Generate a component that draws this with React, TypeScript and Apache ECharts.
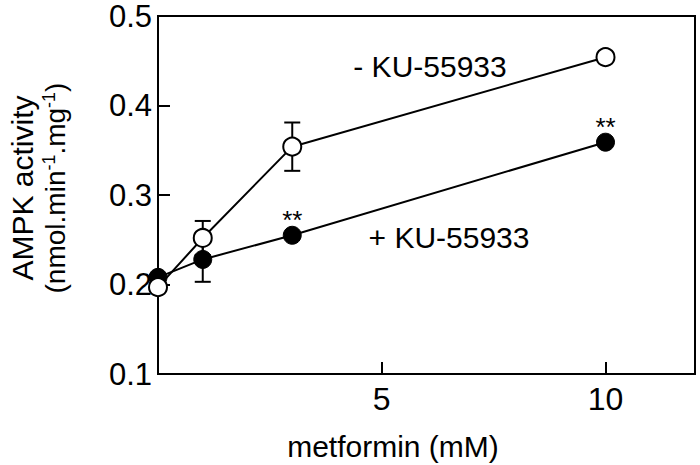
import React, { useEffect, useRef } from "react";
import * as echarts from "echarts";

const metforminDoses = [0, 1, 3, 10];
const withoutKU = [0.197, 0.252, 0.354, 0.454];
const withoutKUErr = [0, 0.019, 0.027, 0];
const withKU = [0.208, 0.228, 0.255, 0.359];
const withKUErr = [0, 0.025, 0, 0];
const significance = ["", "", "**", "**"];
const xTickLabels = [5, 10];

const FONT = '"Liberation Sans", Arial, Helvetica, sans-serif';

export default function App() {
  const ref = useRef<HTMLDivElement>(null);
  useEffect(() => {
    if (!ref.current) return;
    const chart = echarts.init(ref.current, undefined, { renderer: "svg" });

    const errData: number[][] = [];
    metforminDoses.forEach((x, i) => {
      if (withoutKUErr[i] > 0) errData.push([x, withoutKU[i] - withoutKUErr[i], withoutKU[i] + withoutKUErr[i]]);
      if (withKUErr[i] > 0) errData.push([x, withKU[i] - withKUErr[i], withKU[i] + withKUErr[i]]);
    });

    const lineStyle = { stroke: "#000", lineWidth: 2 };

    chart.setOption({
      animation: false,
      backgroundColor: "#fff",
      textStyle: { fontFamily: FONT },
      grid: {
        left: 158,
        right: 5,
        top: 16,
        bottom: 91,
        show: true,
        borderColor: "#000",
        borderWidth: 2,
        backgroundColor: "transparent",
      },
      xAxis: {
        type: "value",
        min: 0,
        max: 12,
        interval: 5,
        splitLine: { show: false },
        axisLine: { show: true, lineStyle: { color: "#000", width: 2 } },
        axisTick: { show: true, inside: true, length: 12, lineStyle: { color: "#000", width: 2 } },
        axisLabel: {
          color: "#000",
          fontSize: 32,
          fontFamily: FONT,
          margin: 9,
          formatter: (v: number) => (xTickLabels.includes(v) ? String(v) : ""),
        },
      },
      yAxis: {
        type: "value",
        min: 0.1,
        max: 0.5,
        interval: 0.1,
        splitLine: { show: false },
        axisLine: { show: true, lineStyle: { color: "#000", width: 2 } },
        axisTick: { show: true, inside: true, length: 12, lineStyle: { color: "#000", width: 2 } },
        axisLabel: {
          color: "#000",
          fontSize: 31,
          fontFamily: FONT,
          margin: 6,
          formatter: (v: number) => v.toFixed(1),
        },
      },
      series: [
        {
          type: "custom",
          z: 1,
          data: errData,
          renderItem: (params: any, api: any) => {
            const x = api.value(0);
            const lo = api.value(1);
            const hi = api.value(2);
            const top = api.coord([x, hi]);
            const bot = api.coord([x, lo]);
            const w = 8;
            return {
              type: "group",
              children: [
                { type: "line", shape: { x1: top[0], y1: top[1], x2: bot[0], y2: bot[1] }, style: lineStyle },
                { type: "line", shape: { x1: top[0] - w, y1: top[1], x2: top[0] + w, y2: top[1] }, style: lineStyle },
                { type: "line", shape: { x1: bot[0] - w, y1: bot[1], x2: bot[0] + w, y2: bot[1] }, style: lineStyle },
              ],
            };
          },
        },
        {
          type: "line",
          name: "+ KU-55933",
          z: 2,
          clip: false,
          symbol: "circle",
          symbolSize: 18,
          lineStyle: { color: "#000", width: 2 },
          itemStyle: { color: "#000", borderColor: "#000", borderWidth: 1 },
          data: metforminDoses.map((x, i) => ({
            value: [x, withKU[i]],
            label: significance[i]
              ? {
                  show: true,
                  position: "top",
                  distance: -7,
                  formatter: significance[i],
                  fontSize: 26,
                  color: "#000",
                  fontFamily: FONT,
                }
              : { show: false },
          })),
        },
        {
          type: "line",
          name: "- KU-55933",
          z: 3,
          clip: false,
          symbol: "circle",
          symbolSize: 18,
          lineStyle: { color: "#000", width: 2 },
          itemStyle: { color: "#fff", borderColor: "#000", borderWidth: 2 },
          data: metforminDoses.map((x, i) => [x, withoutKU[i]]),
        },
      ],
      graphic: [
        {
          type: "text",
          x: 22,
          y: 188,
          rotation: Math.PI / 2,
          style: {
            text: "AMPK activity",
            fontSize: 30,
            fontFamily: FONT,
            fill: "#000",
            align: "center",
            verticalAlign: "middle",
          },
        },
        {
          type: "text",
          x: 55,
          y: 188,
          rotation: Math.PI / 2,
          style: {
            text: "(nmol.min{s|-1}.mg{s|-1})",
            fontSize: 28,
            fontFamily: FONT,
            fill: "#000",
            lineHeight: 30,
            align: "center",
            verticalAlign: "middle",
            rich: {
              s: { fontSize: 18, fontFamily: FONT, fill: "#000", lineHeight: 10, verticalAlign: "top" },
            },
          },
        },
        {
          type: "text",
          x: 393,
          y: 446,
          style: {
            text: "metformin (mM)",
            fontSize: 30,
            fontFamily: FONT,
            fill: "#000",
            align: "center",
            verticalAlign: "middle",
          },
        },
        {
          type: "text",
          x: 430,
          y: 66,
          style: {
            text: "- KU-55933",
            fontSize: 30,
            fontFamily: FONT,
            fill: "#000",
            align: "center",
            verticalAlign: "middle",
          },
        },
        {
          type: "text",
          x: 449,
          y: 237,
          style: {
            text: "+ KU-55933",
            fontSize: 30,
            fontFamily: FONT,
            fill: "#000",
            align: "center",
            verticalAlign: "middle",
          },
        },
      ],
    });
    return () => chart.dispose();
  }, []);

  return (
    <div
      ref={ref}
      style={{ position: "fixed", left: 0, top: 0, width: 700, height: 465, background: "#fff" }}
    />
  );
}
